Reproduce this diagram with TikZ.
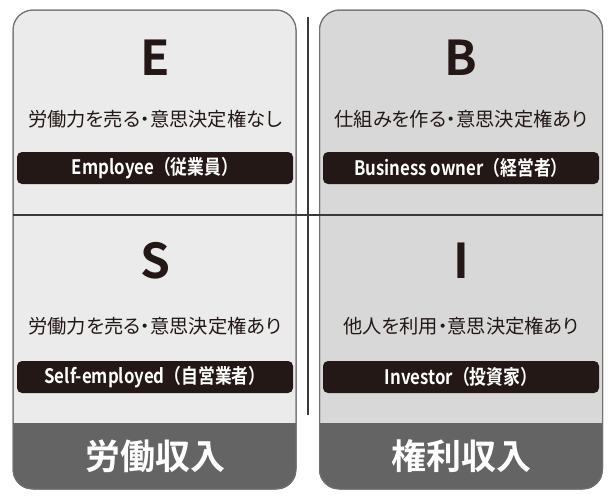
\documentclass[tikz,border=0pt]{standalone}
\usepackage{fontspec}
\setmainfont{Noto Sans CJK JP}
\newfontfamily\descfont[RawFeature=+palt]{Noto Sans CJK JP}
\newfontfamily\labfont[FakeStretch=0.84]{Noto Sans CJK JP Bold}
\newfontfamily\letfont{Noto Sans CJK JP Bold}
\definecolor{panelL}{HTML}{EBEBEB}
\definecolor{panelR}{HTML}{D8D8D8}
\definecolor{bordc}{HTML}{707070}
\definecolor{bandc}{HTML}{646464}
\definecolor{labc}{HTML}{231815}
\definecolor{inkc}{HTML}{231815}
\definecolor{linec}{HTML}{3A3A3A}
\tikzset{
  panel/.style={draw=bordc, line width=1pt, rounded corners=20pt, minimum width=283pt, minimum height=479pt, inner sep=0pt},
  letter/.style={text=inkc, font=\letfont\fontsize{48}{48}\selectfont, anchor=base, inner sep=0pt},
  desc/.style={text=inkc, font=\descfont\fontsize{19.3}{19.3}\selectfont, inner sep=0pt},
  labelbox/.style={fill=labc, rounded corners=5pt, minimum width=276pt, minimum height=32pt, inner sep=0pt, text=white, font=\labfont\fontsize{20}{20}\selectfont},
  bandtext/.style={text=white, font=\letfont\fontsize{35}{35}\selectfont, inner sep=0pt},
  divider/.style={draw=linec, line width=1.1pt}
}
\begin{document}
\begin{tikzpicture}[x=1pt,y=-1pt]
\useasboundingbox[fill=white] (0,0) rectangle (612,499);
% panels
\node[panel, fill=panelL] (L) at (154.5,249.5) {};
\node[panel, fill=panelR] (R) at (461,249.5) {};
% bands
\begin{scope}
  \clip[rounded corners=20pt] (L.south west) rectangle (L.north east);
  \fill[bandc] (13,423) rectangle (296,489);
\end{scope}
\begin{scope}
  \clip[rounded corners=20pt] (R.south west) rectangle (R.north east);
  \fill[bandc] (319,423) rectangle (603,489);
\end{scope}
\node[panel] at (154.5,249.5) {};
\node[panel] at (461,249.5) {};
% dividers
\coordinate (h1) at (13,215);
\coordinate (h2) at (603,215);
\coordinate (v1) at (308,17);
\coordinate (v2) at (308,415);
\draw[divider] (h1) -- (h2);
\draw[divider] (v1) -- (v2);
% E
\node[letter] (E) at (155,75) {E};
\node[desc] (Ed) at (155,119) {労働力を売る・意思決定権なし};
\node[labelbox] (El) at (155,168) {Employee（従業員）};
% B
\node[letter] (B) at (461,75) {B};
\node[desc] (Bd) at (461,119) {仕組みを作る・意思決定権あり};
\node[labelbox] (Bl) at (461,168) {Business owner（経営者）};
% S
\node[letter] (S) at (155,278) {S};
\node[desc] (Sd) at (155,326) {労働力を売る・意思決定権あり};
\node[labelbox] (Sl) at (155,377) {Self-employed（自営業者）};
% I
\node[letter] (I) at (461,278) {I};
\node[desc] (Id) at (461,326) {他人を利用・意思決定権あり};
\node[labelbox] (Il) at (461,377) {Investor（投資家）};
% bands text
\node[bandtext] (Lb) at (155,456) {労働収入};
\node[bandtext] (Rb) at (461,456) {権利収入};
\end{tikzpicture}
\end{document}
